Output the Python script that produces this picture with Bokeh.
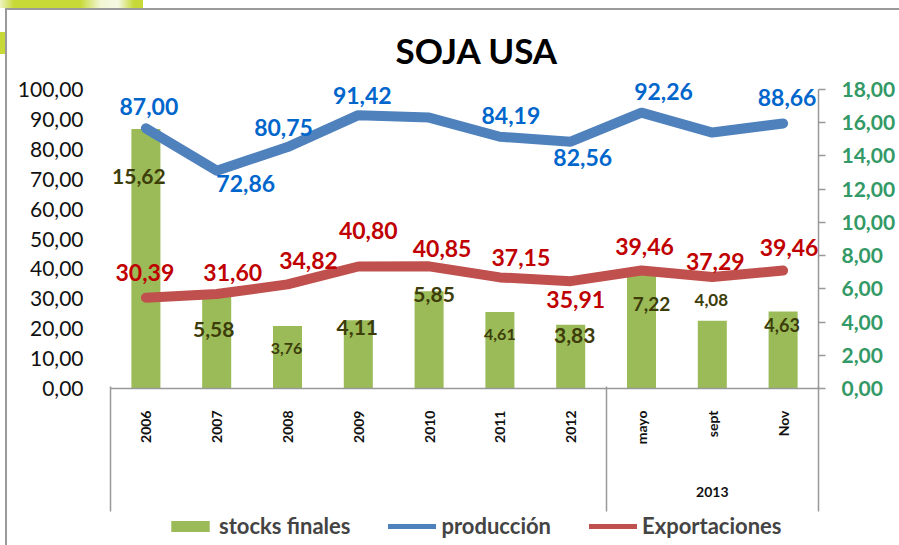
from math import pi
from bokeh.plotting import figure
from bokeh.layouts import column
from bokeh.core.properties import value
from bokeh.models import (Range1d, LinearAxis, FixedTicker, LabelSet,
                          Legend, LegendItem, ColumnDataSource)
from bokeh.embed import file_html
from bokeh.resources import INLINE

# ---------------- data ----------------
categories = ["2006", "2007", "2008", "2009", "2010", "2011", "2012", "mayo", "sept", "Nov"]
group_label = "2013"
group_start = 7
stocks = [15.62, 5.58, 3.76, 4.11, 5.85, 4.61, 3.83, 7.22, 4.08, 4.63]
produccion = [87.00, 72.86, 80.75, 91.42, 90.60, 84.19, 82.56, 92.26, 85.60, 88.66]
exportaciones = [30.39, 31.60, 34.82, 40.80, 40.85, 37.15, 35.91, 39.46, 37.29, 39.46]
prod_labeled = [True, True, True, True, False, True, True, True, False, True]
left_ticks = [0, 10, 20, 30, 40, 50, 60, 70, 80, 90, 100]
left_tick_labels = ["0,00", "10,00", "20,00", "30,00", "40,00", "50,00",
                    "60,00", "70,00", "80,00", "90,00", "100,00"]
right_ticks = [0, 2, 4, 6, 8, 10, 12, 14, 16, 18]
right_tick_labels = ["0,00", "2,00", "4,00", "6,00", "8,00", "10,00",
                     "12,00", "14,00", "16,00", "18,00"]
series_names = ["stocks finales", "producción", "Exportaciones"]

# ---------------- label placement (style) ----------------
prod_dx = [3, 29, -4, 4, 0, 11, 12, 22, 0, 4]
prod_dy = [22, -13, 20, 20, 0, 21, -16, 21, 0, 26]
exp_dx = [-1, 16, 21, 10, 13, 21, 5, 3, 3, 6]
exp_dy = [25, 22, 24, 36, 18, 20, -18, 24, 16, 23]
stk_dx = [-7, -3, -1, -1, 5, 0, 4, 10, -1, -1]
stk_dy = [-48, -34, -22, -7, -3, -23, -11, -35, 21, -13]
stk_size = ["21px", "21px", "16px", "21px", "21px", "16px", "21px", "19px", "17px", "18px"]

FONT = "Lato"
GREEN_BAR = "#9BBB59"
BLUE = "#4F81BD"
RED = "#C0504D"
AXIS_GRAY = "#999999"
CAT_AXIS_SIZE = 61   # height taken by the category-label axis


def fmt(v):
    return f"{v:.2f}".replace(".", ",")


xs = [i + 0.5 for i in range(len(categories))]
n = len(categories)
src = ColumnDataSource(dict(x=xs, stocks=stocks, prod=produccion, exp=exportaciones))

p = figure(width=899, height=513, x_range=Range1d(0, n),
           y_range=Range1d(0, 105.69), output_backend="svg", toolbar_location=None,
           min_border_left=110, min_border_right=81, min_border_top=72,
           min_border_bottom=125, outline_line_color=None,
           background_fill_color="white", border_fill_color=None)
p.extra_y_ranges = {"right": Range1d(0, 19.02)}
p.xgrid.visible = False
p.ygrid.visible = False

# title
p.title.text = "SOJA  USA"
p.title.align = "left"
p.title.offset = 285
p.title.text_font = FONT
p.title.text_font_style = "bold"
p.title.text_font_size = "35px"
p.title.text_color = "#000000"
p.title.standoff = 4

# x axis 1: category labels
xa = p.xaxis[0]
xa.ticker = FixedTicker(ticks=xs, minor_ticks=[])
xa.major_label_overrides = {x: c for x, c in zip(xs, categories)}
xa.bounds = (0, n)
xa.major_tick_out = 0
xa.major_tick_in = 0
xa.major_label_standoff = 22
xa.major_label_orientation = pi / 2
xa.major_label_text_font = FONT
xa.major_label_text_font_style = "bold"
xa.major_label_text_font_size = "14px"
xa.major_label_text_color = "#111111"
xa.axis_line_color = AXIS_GRAY
xa.axis_line_width = 1.5
xa.major_tick_line_color = None
xa.minor_tick_line_color = None

# x axis 2: group separators (minor ticks reaching up to the baseline) and group label
gx = LinearAxis(ticker=FixedTicker(ticks=[(group_start + n) / 2],
                                   minor_ticks=[0, group_start, n]),
                major_label_overrides={(group_start + n) / 2: group_label})
gx.axis_line_color = None
gx.major_tick_line_color = None
gx.major_tick_out = 0
gx.major_tick_in = 0
gx.minor_tick_in = CAT_AXIS_SIZE
gx.minor_tick_out = 64
gx.minor_tick_line_color = AXIS_GRAY
gx.minor_tick_line_width = 1.5
gx.major_label_standoff = -25
gx.major_label_text_font = FONT
gx.major_label_text_font_style = "bold"
gx.major_label_text_font_size = "14px"
gx.major_label_text_color = "#111111"
p.add_layout(gx, "below")

# left axis
ya = p.yaxis[0]
ya.ticker = FixedTicker(ticks=left_ticks, minor_ticks=[])
ya.major_label_overrides = {t: s for t, s in zip(left_ticks, left_tick_labels)}
ya.axis_line_color = None
ya.major_tick_line_color = None
ya.minor_tick_line_color = None
ya.major_tick_out = 0
ya.major_tick_in = 0
ya.major_label_standoff = 27
ya.major_label_text_font = FONT
ya.major_label_text_font_size = "21px"
ya.major_label_text_color = "#111111"

# right axis
ra = LinearAxis(y_range_name="right", ticker=FixedTicker(ticks=right_ticks, minor_ticks=[]))
ra.major_label_overrides = {t: s for t, s in zip(right_ticks, right_tick_labels)}
ra.bounds = (right_ticks[0], right_ticks[-1])
ra.axis_line_color = AXIS_GRAY
ra.axis_line_width = 1.5
ra.major_tick_line_color = AXIS_GRAY
ra.major_tick_line_width = 1.5
ra.minor_tick_line_color = None
ra.major_tick_out = 7
ra.major_tick_in = 0
ra.major_label_standoff = 16
ra.major_label_text_font = FONT
ra.major_label_text_font_style = "bold"
ra.major_label_text_font_size = "21px"
ra.major_label_text_color = "#339966"
p.add_layout(ra, "right")

p.vbar(x="x", top="stocks", bottom=0, width=0.41, y_range_name="right",
       fill_color=GREEN_BAR, line_color=None, source=src)
p.line("x", "prod", line_width=10, line_color=BLUE, line_cap="round",
       line_join="round", source=src)
p.line("x", "exp", line_width=10, line_color=RED, line_cap="round",
       line_join="round", source=src)

# data labels
st_src = ColumnDataSource(dict(x=xs, y=stocks, text=[fmt(v) for v in stocks],
                               dx=stk_dx, dy=stk_dy, fs=stk_size))
p.add_layout(LabelSet(x="x", y="y", text="text", x_offset="dx", y_offset="dy",
                      y_range_name="right", source=st_src, text_font=value(FONT),
                      text_font_style="bold", text_font_size="fs",
                      text_color="#3d3d0a", text_align="center",
                      text_baseline="middle"))

idx = [i for i, f in enumerate(prod_labeled) if f]
pr_src = ColumnDataSource(dict(x=[xs[i] for i in idx], y=[produccion[i] for i in idx],
                               text=[fmt(produccion[i]) for i in idx],
                               dx=[prod_dx[i] for i in idx], dy=[prod_dy[i] for i in idx]))
p.add_layout(LabelSet(x="x", y="y", text="text", x_offset="dx", y_offset="dy",
                      source=pr_src, text_font=value(FONT), text_font_style="bold",
                      text_font_size="23px", text_color="#0066CC",
                      text_align="center", text_baseline="middle"))

ex_src = ColumnDataSource(dict(x=xs, y=exportaciones, text=[fmt(v) for v in exportaciones],
                               dx=exp_dx, dy=exp_dy))
p.add_layout(LabelSet(x="x", y="y", text="text", x_offset="dx", y_offset="dy",
                      source=ex_src, text_font=value(FONT), text_font_style="bold",
                      text_font_size="23px", text_color="#C00000",
                      text_align="center", text_baseline="middle"))

# ---------------- legend strip (separate figure below the chart) ----------------
# same series drawn with ranges that keep them out of view; only the legend shows
lg = figure(width=899, height=32, x_range=Range1d(100, 101), y_range=Range1d(1000, 1001),
            output_backend="svg", toolbar_location=None, x_axis_location=None,
            y_axis_location=None, min_border=0, outline_line_color=None,
            background_fill_color=None, border_fill_color=None)
lg.title = None
lg.xgrid.visible = False
lg.ygrid.visible = False
leg_bar = lg.vbar(x="x", top="stocks", width=0.41, fill_color=GREEN_BAR,
                  line_color=None, source=src)
leg_prod = lg.line("x", "prod", line_width=5, line_color=BLUE, line_cap="round", source=src)
leg_exp = lg.line("x", "exp", line_width=5, line_color=RED, line_cap="round", source=src)
legend = Legend(items=[LegendItem(label=series_names[0], renderers=[leg_bar]),
                       LegendItem(label=series_names[1], renderers=[leg_prod]),
                       LegendItem(label=series_names[2], renderers=[leg_exp])],
                orientation="horizontal", location=(56, 6),
                border_line_color=None, background_fill_alpha=0,
                label_text_font=FONT, label_text_font_style="bold",
                label_text_font_size="22px", glyph_width=48, glyph_height=14,
                label_standoff=5, spacing=38, padding=0, margin=0)
lg.add_layout(legend, "center")

page = column(p, lg, spacing=0)
page.styles = {
    "background-image": ("linear-gradient(#9a9a9a,#9a9a9a), linear-gradient(#9a9a9a,#9a9a9a), "
                         "linear-gradient(90deg,#eef4c4 0px,#c6d936 14px,#c6d936 80px,#f1f6d2 100px,"
                         "#f6f9e4 118px,#c6d936 134px,#c6d936 143px), "
                         "linear-gradient(#c6d936,#c6d936)"),
    "background-size": "2px 540px, 894px 2px, 143px 8px, 5px 22px",
    "background-position": "5px 8px, 5px 8px, 0px 0px, 0px 32px",
    "background-repeat": "no-repeat",
    "background-color": "white",
}

open("out.html", "w").write(file_html(page, INLINE))
